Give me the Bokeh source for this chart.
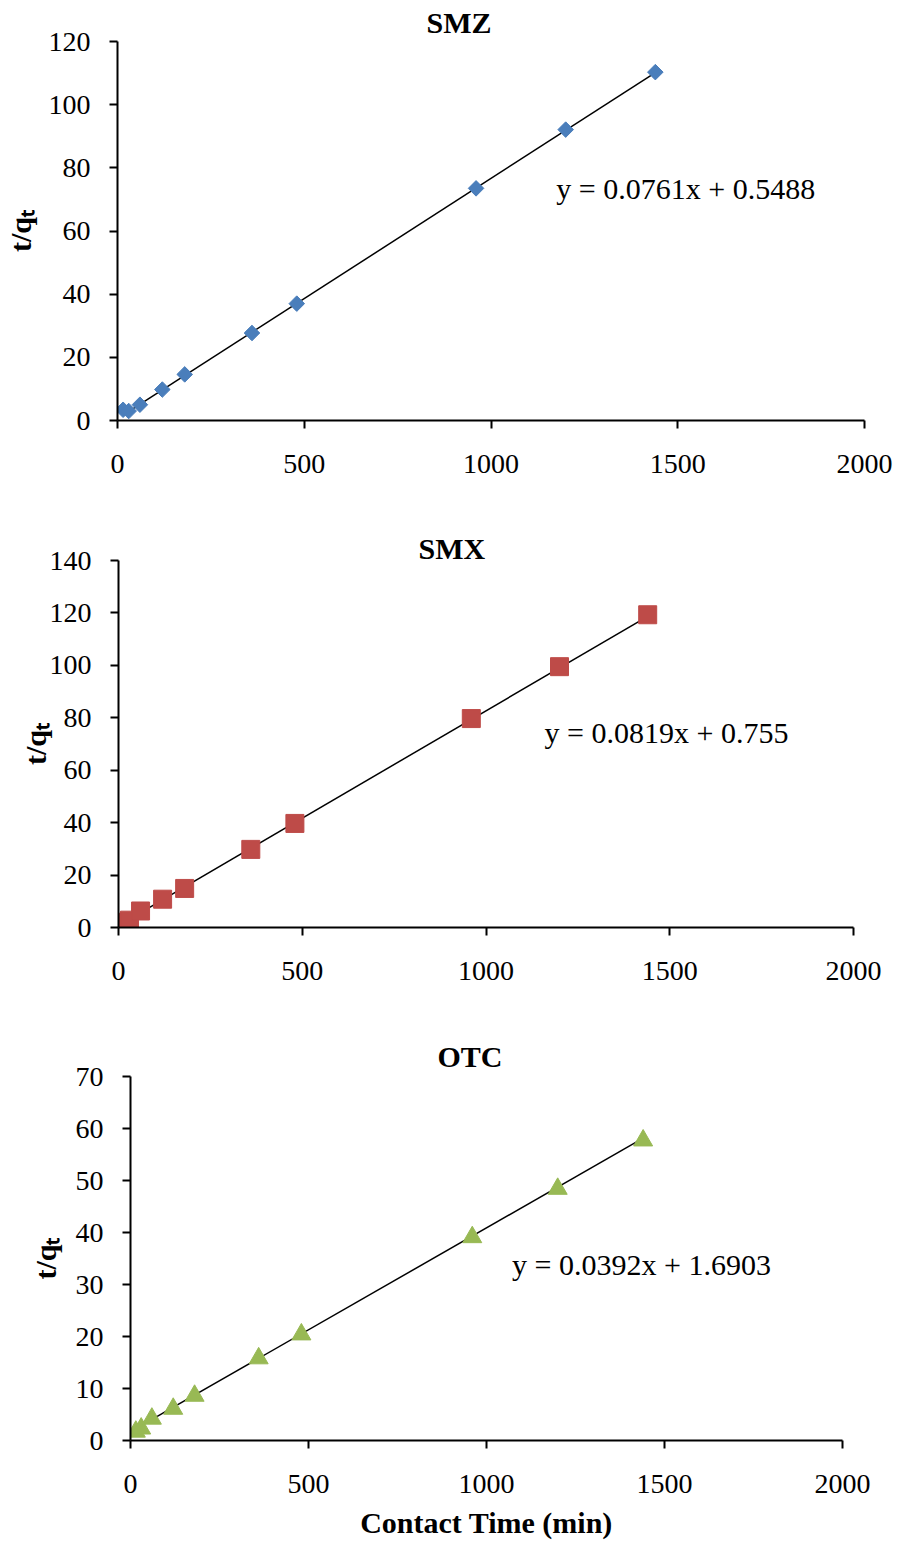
import numpy as np
from bokeh.plotting import figure
from bokeh.models import Range1d, FixedTicker, Label
from bokeh.embed import file_html
from bokeh.resources import INLINE

# ---------------- data ----------------
times = [15, 30, 60, 120, 180, 360, 480, 960, 1200, 1440]
smz = [3.4, 3.0, 5.0, 9.8, 14.6, 27.7, 37.0, 73.5, 92.1, 110.3]
smx = [2.0, 2.8, 6.3, 10.8, 14.9, 29.8, 39.7, 79.7, 99.5, 119.3]
otc = [1.7, 2.3, 4.2, 6.1, 8.6, 15.8, 20.4, 39.1, 48.4, 57.7]

names = ["SMZ", "SMX", "OTC"]
slopes = [0.0761, 0.0819, 0.0392]
intercepts = [0.5488, 0.755, 1.6903]
equations = ["y = 0.0761x + 0.5488", "y = 0.0819x + 0.755", "y = 0.0392x + 1.6903"]
x_ticks = [0, 500, 1000, 1500, 2000]
y_ticks = [[0, 20, 40, 60, 80, 100, 120],
           [0, 20, 40, 60, 80, 100, 120, 140],
           [0, 10, 20, 30, 40, 50, 60, 70]]
y_label = "t/q\u209c"
x_label = "Contact Time (min)"

SERIF = "Liberation Serif"
W = 895

# page geometry per panel (page has no margin in Bokeh's template)
panels = [
    dict(top=0, bottom=519, fl=116, fr=864, ft=41, fb=420,
         title_off=309, title_so=6, eq=(685, 188), ylab_so=9,
         marker="square", angle=np.pi / 4, size=11, color="#4A7EBB", y=smz),
    dict(top=519, bottom=1034, fl=118, fr=853, ft=560, fb=927,
         title_off=300, title_so=-8, eq=(666, 732), ylab_so=-5,
         marker="square", angle=0, size=18, color="#BE4B48", y=smx),
    dict(top=1034, bottom=1541, fl=130, fr=842, ft=1075, fb=1442,
         title_off=307, title_so=7, eq=(641, 1265), ylab_so=11,
         marker="triangle", angle=0, size=19, color="#98B954", y=otc),
]

figs = []
for i, g in enumerate(panels):
    xmax = x_ticks[-1]
    ymax = y_ticks[i][-1]
    H = g["bottom"] - g["top"]
    fl, fr, ft, fb = g["fl"], g["fr"], g["ft"], g["fb"]
    p = figure(width=W, height=H, output_backend="svg", toolbar_location=None,
               x_range=Range1d(0, xmax), y_range=Range1d(0, ymax),
               min_border_left=fl, min_border_right=W - fr,
               min_border_top=ft - g["top"], min_border_bottom=g["bottom"] - fb)
    p.outline_line_color = None
    p.xgrid.visible = False
    p.ygrid.visible = False
    p.background_fill_color = "white"
    p.border_fill_color = "white"

    # title
    p.title.text = names[i]
    p.title.text_font = SERIF
    p.title.text_font_size = "30px"
    p.title.text_font_style = "bold"
    p.title.text_color = "black"
    p.title.align = "left"
    p.title.offset = g["title_off"]
    p.title.standoff = g["title_so"]

    for ax, ticks in ((p.xaxis, x_ticks), (p.yaxis, y_ticks[i])):
        ax.ticker = FixedTicker(ticks=ticks)
        ax.axis_line_color = "black"
        ax.axis_line_width = 2
        ax.major_tick_line_color = "black"
        ax.major_tick_line_width = 2
        ax.major_tick_in = 0
        ax.major_tick_out = 8
        ax.minor_tick_line_color = None
        ax.major_label_text_font = SERIF
        ax.major_label_text_font_size = "28px"
        ax.major_label_text_color = "black"
        ax.axis_label_text_font = SERIF
        ax.axis_label_text_font_size = "30px"
        ax.axis_label_text_font_style = "bold"
        ax.axis_label_text_color = "black"
    p.xaxis.major_label_standoff = 26
    p.yaxis.major_label_standoff = 19
    p.yaxis.axis_label = y_label
    p.yaxis.axis_label_standoff = g["ylab_so"]
    if i == 2:
        p.xaxis.axis_label = x_label
        p.xaxis.axis_label_standoff = 10

    def dx(sx, fl=fl, fr=fr, xmax=xmax):
        return (sx - fl) / (fr - fl) * xmax

    def dy(sy, ft=ft, fb=fb, ymax=ymax):
        return (fb - sy) / (fb - ft) * ymax

    # regression line over the data range
    m, b = slopes[i], intercepts[i]
    x0, x1 = times[0], times[-1]
    p.line([x0, x1], [m * x0 + b, m * x1 + b], line_color="black", line_width=1.5)

    # markers
    p.scatter(times, g["y"], marker=g["marker"], size=g["size"], angle=g["angle"],
              fill_color=g["color"], line_color=g["color"], line_width=1)

    # equation
    ex, ey = g["eq"]
    p.add_layout(Label(x=dx(ex), y=dy(ey), text=equations[i], text_font=SERIF,
                       text_font_size="30px", text_align="center",
                       text_baseline="middle", text_color="black"))
    figs.append(p)

open("out.html", "w").write(file_html(figs, INLINE))
